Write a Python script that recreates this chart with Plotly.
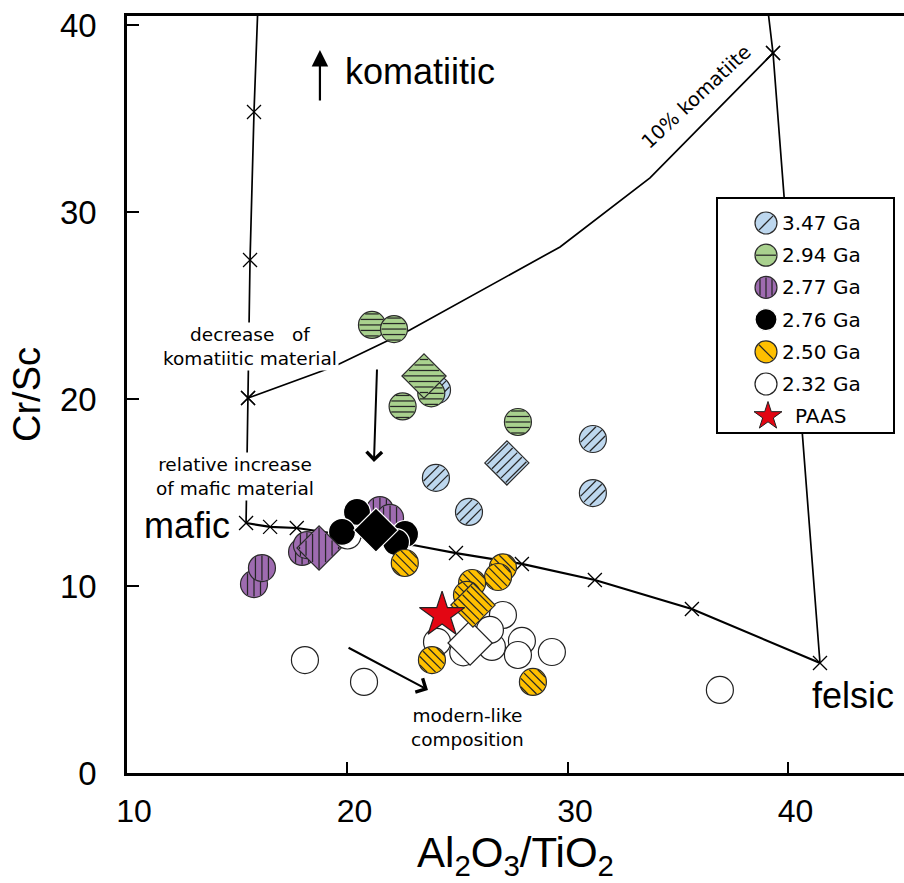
import math
import plotly.graph_objects as go

# ---------------------------------------------------------------- data
# Al2O3/TiO2 (x) and Cr/Sc (y) of the sample groups
ga347_x = [24.06, 24.01, 25.51, 31.13, 31.13]
ga347_y = [20.48, 15.78, 13.96, 17.86, 14.97]

ga294_x = [21.11, 22.11, 22.50, 23.80, 27.73]
ga294_y = [23.96, 23.74, 19.60, 20.30, 18.77]

ga277_x = [15.76, 16.12, 17.94, 18.16, 21.47, 21.93]
ga277_y = [10.10, 10.96, 11.82, 12.19, 14.06, 13.64]

ga276_x = [20.43, 19.75, 22.61, 22.20]
ga276_y = [13.96, 12.89, 12.78, 12.35]

ga250_x = [22.60, 27.05, 26.83, 25.65, 25.42, 23.83, 28.41]
ga250_y = [11.23, 11.00, 10.48, 10.16, 9.52, 6.04, 4.87]

ga232_x = [18.07, 20.75, 36.89, 20.00, 27.05, 24.06, 25.33, 26.55, 27.91, 27.73, 29.27, 26.46, 25.25]
ga232_y = [6.04, 4.87, 4.44, 12.70, 8.45, 7.01, 6.68, 6.74, 7.06, 6.31, 6.47, 7.65, 6.45]

# group averages (diamonds), order: 2.32, 3.47, 2.94, 2.77, 2.76, 2.50 Ga
mean_x = [25.56, 27.23, 23.47, 18.71, 21.29, 25.69]
mean_y = [6.95, 16.58, 21.23, 12.03, 12.99, 8.98]

# Post-Archean Australian Shale
paas_x = [24.29]
paas_y = [8.45]

# mixing lines between end members (x marks at mixing steps)
mafic_felsic_x = [15.40, 16.49, 17.70, 22.97, 24.92, 27.91, 31.22, 35.62, 41.43]
mafic_felsic_y = [13.37, 13.16, 13.10, 12.19, 11.76, 11.18, 10.32, 8.77, 5.88]
mafic_felsic_marks = [0, 1, 2, 4, 5, 6, 7, 8]

mafic_komatiite_x = [15.92, 15.76, 15.58, 15.49, 15.40]
mafic_komatiite_y = [40.48, 35.35, 27.43, 20.05, 13.37]
mafic_komatiite_marks = [1, 2, 3]

komatiite10_x = [15.49, 19.34, 22.83, 26.92, 29.64, 33.72, 39.30]
komatiite10_y = [20.05, 21.71, 23.69, 26.36, 28.13, 31.82, 38.50]
komatiite10_marks = [0, 6]

felsic_komatiite_x = [39.10, 39.30, 41.43]
felsic_komatiite_y = [40.48, 38.50, 5.88]
felsic_komatiite_marks = [1]

x_ticks = [10, 20, 30, 40]
y_ticks = [0, 10, 20, 30, 40]

# ---------------------------------------------------------------- layout geometry
FIG_W, FIG_H = 904, 883
M_L, M_R, M_T, M_B = 127, 0, 16, 110
X_RANGE = [10, 45.24]
Y_RANGE = [0, 40.48]
PLOT_W = FIG_W - M_L - M_R
PLOT_H = FIG_H - M_T - M_B
PX_X = PLOT_W / (X_RANGE[1] - X_RANGE[0])   # pixels per x unit
PX_Y = PLOT_H / (Y_RANGE[1] - Y_RANGE[0])   # pixels per y unit

FONT = "Liberation Sans, Arial, sans-serif"
SMALL_FONT = "DejaVu Sans, Liberation Sans, sans-serif"

CIRCLE_SIZE = 27
DIAMOND_SIZE = 34
HATCH_COLOR = "#262626"
HATCH_WIDTH = 1.25

styles = {
    "3.47 Ga": dict(fill="#BDD7EE", edge="#2b2b2b", hatch="/", gap=6.5),
    "2.94 Ga": dict(fill="#A9D18E", edge="#2b2b2b", hatch="h", gap=5.5),
    "2.77 Ga": dict(fill="#9E6BB0", edge="#2b2b2b", hatch="v", gap=6.5),
    "2.76 Ga": dict(fill="#000000", edge="#FFFFFF", hatch=None, gap=0),
    "2.50 Ga": dict(fill="#FFC000", edge="#2b2b2b", hatch="\\", gap=6.0),
    "2.32 Ga": dict(fill="#FFFFFF", edge="#222222", hatch=None, gap=0),
}

DIRS = {
    "h": ((1.0, 0.0), (0.0, 1.0)),
    "v": ((0.0, 1.0), (1.0, 0.0)),
    "/": ((1 / math.sqrt(2), 1 / math.sqrt(2)), (1 / math.sqrt(2), -1 / math.sqrt(2))),
    "\\": ((1 / math.sqrt(2), -1 / math.sqrt(2)), (1 / math.sqrt(2), 1 / math.sqrt(2))),
}


def hatch_offsets(shape, direction, size, gap):
    """Hatch segments (screen pixels, y up) for a marker centred at the origin."""
    (ex, ey), (nx, ny) = DIRS[direction]
    segs = []
    if shape == "circle":
        r = size / 2.0
        lim = r - 1.5
    else:
        r = 0.65 * size
        lim = (r / math.sqrt(2) - 1.5) if direction in "/\\" else (r - 2.0)
    kmax = int(lim // gap)
    for k in range(-kmax, kmax + 1):
        d = k * gap
        if shape == "circle":
            half = math.sqrt(max(r * r - d * d, 0)) - 1.0
        elif direction in "/\\":
            half = r / math.sqrt(2) - 1.0
        else:
            half = r - abs(d) - 1.5
        if half <= 0.5:
            continue
        segs.append(((d * nx - half * ex, d * ny - half * ey),
                     (d * nx + half * ex, d * ny + half * ey)))
    return segs


fig = go.Figure()


def add_mark(x, y, shape, size, style, xaxis="x", yaxis="y", sx=PX_X, sy=PX_Y):
    fig.add_trace(go.Scatter(
        x=[x], y=[y], mode="markers", xaxis=xaxis, yaxis=yaxis,
        marker=dict(symbol=shape, size=size, color=style["fill"],
                    line=dict(color=style["edge"], width=1.2)),
        showlegend=False, hoverinfo="skip"))
    if style["hatch"]:
        hx, hy = [], []
        for (p0, p1) in hatch_offsets(shape, style["hatch"], size, style["gap"]):
            hx += [x + p0[0] / sx, x + p1[0] / sx, None]
            hy += [y + p0[1] / sy, y + p1[1] / sy, None]
        fig.add_trace(go.Scatter(
            x=hx, y=hy, mode="lines", xaxis=xaxis, yaxis=yaxis,
            line=dict(color=HATCH_COLOR, width=HATCH_WIDTH),
            showlegend=False, hoverinfo="skip"))


# ---------------------------------------------------------------- mixing lines
def add_mixing(xs, ys, marks, width):
    fig.add_trace(go.Scatter(x=xs, y=ys, mode="lines",
                             line=dict(color="black", width=width),
                             showlegend=False, hoverinfo="skip"))
    fig.add_trace(go.Scatter(x=[xs[i] for i in marks], y=[ys[i] for i in marks],
                             mode="markers",
                             marker=dict(symbol="x-thin", size=14,
                                         line=dict(color="black", width=1.3)),
                             showlegend=False, hoverinfo="skip"))


add_mixing(mafic_komatiite_x, mafic_komatiite_y, mafic_komatiite_marks, 1.7)
add_mixing(komatiite10_x, komatiite10_y, komatiite10_marks, 1.7)
add_mixing(felsic_komatiite_x, felsic_komatiite_y, felsic_komatiite_marks, 1.7)
add_mixing(mafic_felsic_x, mafic_felsic_y, mafic_felsic_marks, 2.2)

# ---------------------------------------------------------------- samples
draw_order = [
    ("2.32 Ga", ga232_x, ga232_y),
    ("3.47 Ga", ga347_x, ga347_y),
    ("2.94 Ga", ga294_x, ga294_y),
    ("2.77 Ga", ga277_x, ga277_y),
    ("2.76 Ga", ga276_x, ga276_y),
    ("2.50 Ga", ga250_x, ga250_y),
]
for name, xs, ys in draw_order:
    for x, y in zip(xs, ys):
        add_mark(x, y, "circle", CIRCLE_SIZE, styles[name])

for (name, _, _), mx, my in zip(draw_order, mean_x, mean_y):
    add_mark(mx, my, "diamond", DIAMOND_SIZE, styles[name])

fig.add_trace(go.Scatter(x=paas_x, y=paas_y, mode="markers",
                         marker=dict(symbol="star", size=34, color="#E30613",
                                     line=dict(color="#222222", width=1.2)),
                         showlegend=False, hoverinfo="skip"))

# ---------------------------------------------------------------- legend box (own small axes, pixel units)
LEG_L, LEG_T, LEG_R, LEG_B = 717, 198, 894, 433
LEG_W, LEG_H = LEG_R - LEG_L, LEG_B - LEG_T
leg_dom_x = [(LEG_L - M_L) / PLOT_W, (LEG_R - M_L) / PLOT_W]
leg_dom_y = [(FIG_H - M_B - LEG_B) / PLOT_H, (FIG_H - M_B - LEG_T) / PLOT_H]

fig.add_trace(go.Scatter(x=[0, LEG_W, LEG_W, 0, 0], y=[0, 0, LEG_H, LEG_H, 0],
                         mode="lines", fill="toself", fillcolor="white",
                         line=dict(width=0, color="white"),
                         xaxis="x2", yaxis="y2", showlegend=False, hoverinfo="skip"))

legend_names = ["3.47 Ga", "2.94 Ga", "2.77 Ga", "2.76 Ga", "2.50 Ga", "2.32 Ga"]
leg_gap = {"3.47 Ga": 40, "2.94 Ga": 40, "2.77 Ga": 6, "2.76 Ga": 0, "2.50 Ga": 40, "2.32 Ga": 0}
row_h = 32.2
for i, name in enumerate(legend_names):
    cy = 25 + i * row_h
    st = dict(styles[name])
    st["gap"] = leg_gap[name]
    # legend axis has y pointing down, so flip the vertical pixel scale
    add_mark(49, cy, "circle", 22, st, xaxis="x2", yaxis="y2", sx=1.0, sy=-1.0)
    fig.add_annotation(x=63, y=cy, xref="x2", yref="y2", text=name, showarrow=False,
                       xanchor="left", yanchor="middle",
                       font=dict(family=SMALL_FONT, size=20, color="black"))

paas_cy = 25 + 6 * row_h
fig.add_trace(go.Scatter(x=[51], y=[paas_cy], mode="markers", xaxis="x2", yaxis="y2",
                         marker=dict(symbol="star", size=21, color="#E30613",
                                     line=dict(color="#222222", width=1)),
                         showlegend=False, hoverinfo="skip"))
fig.add_annotation(x=76, y=paas_cy, xref="x2", yref="y2", text="PAAS", showarrow=False,
                   xanchor="left", yanchor="middle",
                   font=dict(family=SMALL_FONT, size=20, color="black"))

fig.add_shape(type="rect", xref="paper", yref="paper",
              x0=leg_dom_x[0], x1=leg_dom_x[1], y0=leg_dom_y[0], y1=leg_dom_y[1],
              line=dict(color="black", width=2), fillcolor="rgba(0,0,0,0)", layer="above")

# ---------------------------------------------------------------- labels and arrows
def label(x, y, text, size, family=FONT, bg=None, **kw):
    fig.add_annotation(x=x, y=y, text=text, showarrow=False,
                       font=dict(family=family, size=size, color="black"),
                       bgcolor=bg if bg else "rgba(0,0,0,0)", borderpad=1, **kw)


def arrow(x0, y0, x1, y1, head, width, hsize):
    fig.add_annotation(x=x1, y=y1, ax=x0, ay=y0, xref="x", yref="y", axref="x", ayref="y",
                       text="", showarrow=True, arrowhead=head, arrowwidth=width,
                       arrowsize=hsize, arrowcolor="black", standoff=0, startstandoff=0)


label(19.80, 37.49, "komatiitic", 36, xanchor="left")
arrow(18.75, 35.88, 18.75, 38.66, 2, 2.2, 1.5)

label(35.85, 36.15, "10% komatiite", 19.5, family=SMALL_FONT, textangle=-43)

label(15.58, 22.80, "decrease\u00a0\u00a0\u00a0of<br>komatiitic material", 18.5,
      family=SMALL_FONT, bg="white")
arrow(21.34, 21.66, 21.20, 16.63, 4, 2, 1.5)

label(14.90, 15.83, "relative increase<br>of mafic material", 18.5,
      family=SMALL_FONT, bg="white")

label(14.76, 13.26, "mafic", 36, xanchor="right")
label(42.93, 4.17, "felsic", 36)

arrow(19.98, 6.74, 23.65, 4.44, 4, 2, 1.5)
label(25.46, 2.46, "modern-like<br>composition", 18.5, family=SMALL_FONT)

# ---------------------------------------------------------------- axes
fig.update_layout(
    width=FIG_W, height=FIG_H,
    margin=dict(l=M_L, r=M_R, t=M_T, b=M_B, pad=0),
    paper_bgcolor="white", plot_bgcolor="white",
    font=dict(family=FONT, color="black"),
    showlegend=False,
    xaxis=dict(range=X_RANGE, tickvals=x_ticks, ticks="inside", ticklen=11, tickwidth=2,
               tickcolor="black", showline=True, linecolor="black", linewidth=2.5,
               mirror=True, showgrid=False, zeroline=False,
               tickfont=dict(family=FONT, size=32), ticklabelshift=7, ticklabelstandoff=8,
               title=dict(text="Al<sub>2</sub>O<sub>3</sub>/TiO<sub>2</sub>",
                          font=dict(family=FONT, size=42), standoff=2)),
    yaxis=dict(range=Y_RANGE, tickvals=y_ticks, ticks="inside", ticklen=12, tickwidth=2,
               tickcolor="black", showline=True, linecolor="black", linewidth=2.5,
               mirror=False, showgrid=False, zeroline=False,
               tickfont=dict(family=FONT, size=33), ticklabelstandoff=21,
               title=dict(text="Cr/Sc", font=dict(family=FONT, size=38), standoff=8)),
    xaxis2=dict(domain=leg_dom_x, range=[0, LEG_W], visible=False, anchor="y2",
                fixedrange=True),
    yaxis2=dict(domain=leg_dom_y, range=[LEG_H, 0], visible=False, anchor="x2",
                fixedrange=True),
)

fig.write_html("out.html")
